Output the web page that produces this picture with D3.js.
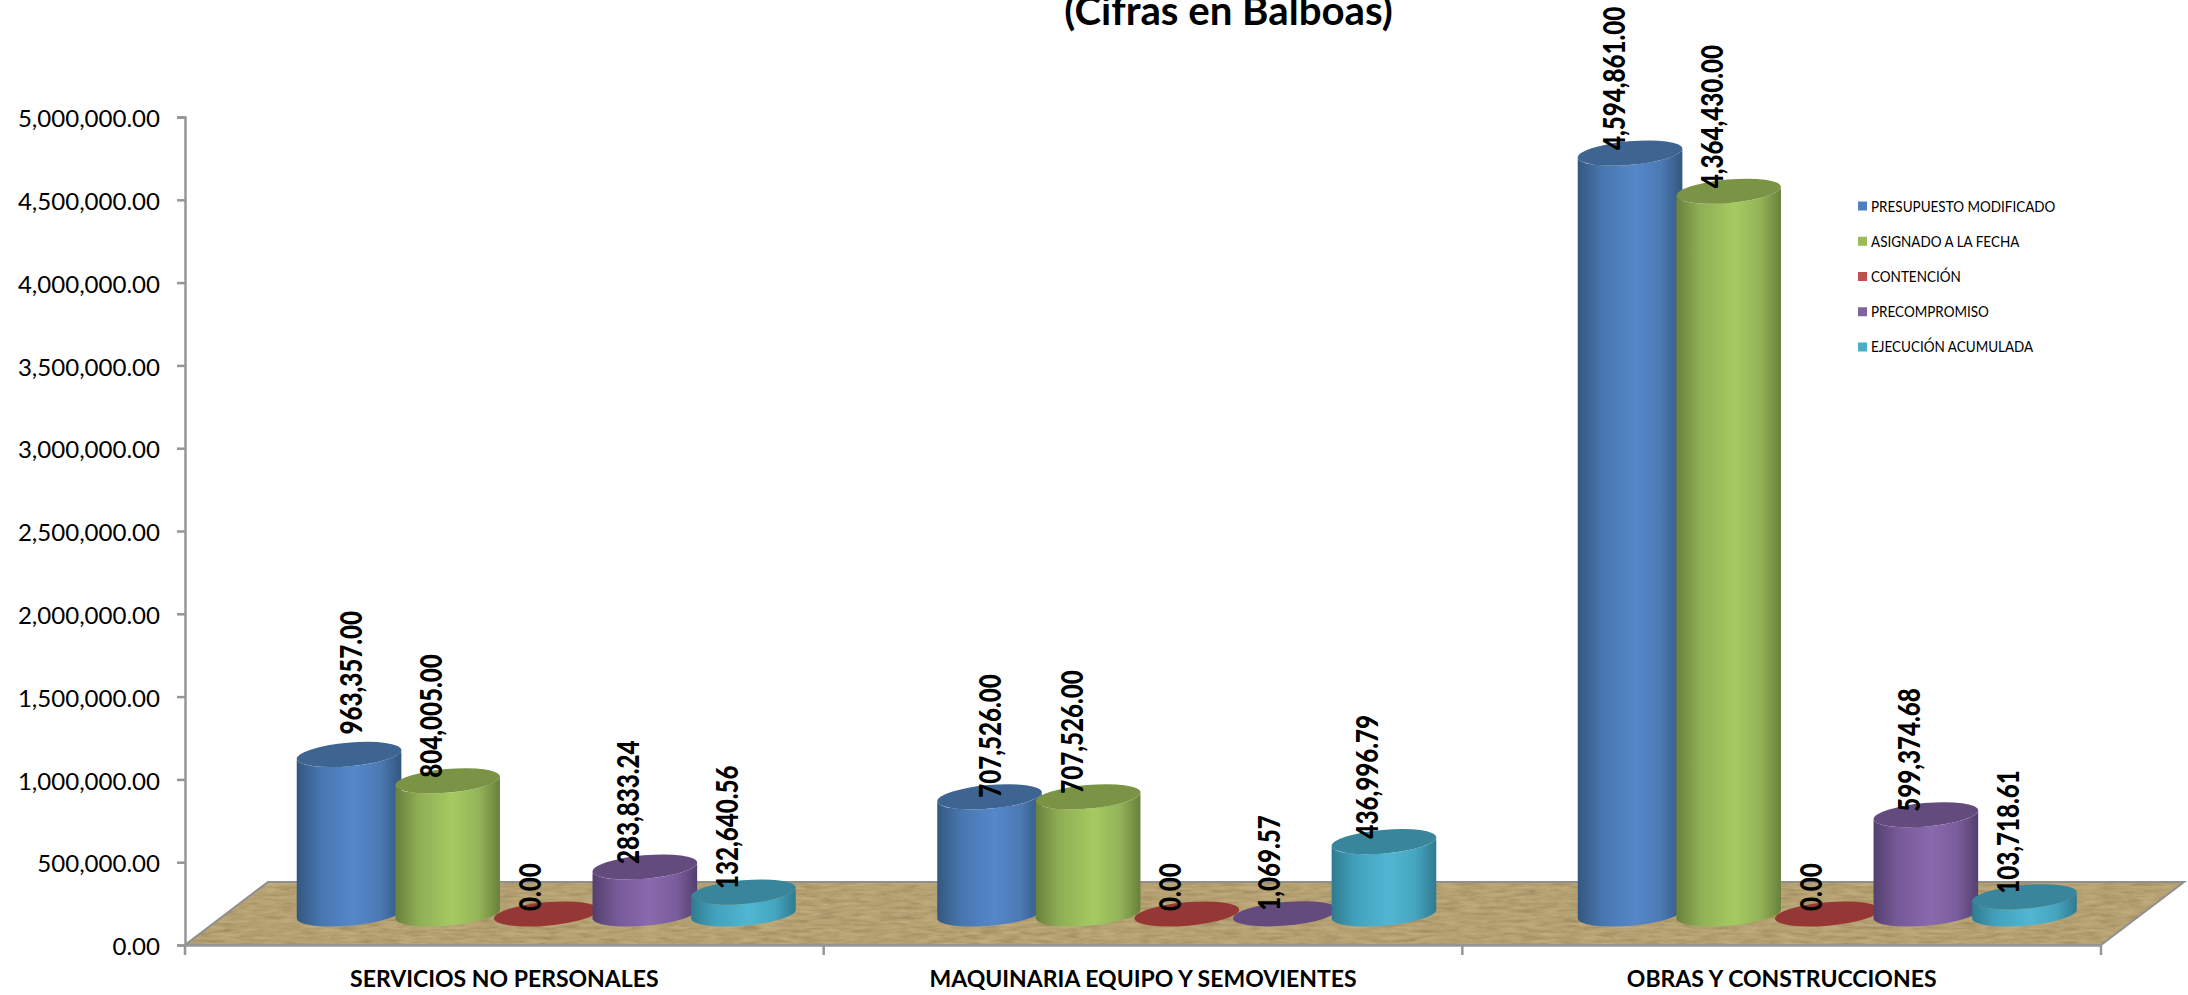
<!DOCTYPE html>
<html><head><meta charset="utf-8">
<script src="https://cdn.jsdelivr.net/npm/d3@7"></script>
<style>html,body{margin:0;padding:0;background:#fff;overflow:hidden}text{font-family:Lato,sans-serif;fill:#000}</style>
</head><body><svg id="c" width="2188" height="995" xmlns="http://www.w3.org/2000/svg"></svg>
<script>
const categories = ["SERVICIOS NO PERSONALES","MAQUINARIA EQUIPO Y SEMOVIENTES","OBRAS Y CONSTRUCCIONES"];
const seriesNames = ["PRESUPUESTO MODIFICADO","ASIGNADO A LA FECHA","CONTENCIÓN","PRECOMPROMISO","EJECUCIÓN ACUMULADA"];
const presupuesto = [963357.00,707526.00,4594861.00];
const asignado = [804005.00,707526.00,4364430.00];
const contencion = [0,0,0];
const precompromiso = [283833.24,1069.57,599374.68];
const ejecucion = [132640.56,436996.79,103718.61];
const yTicks = [0,500000,1000000,1500000,2000000,2500000,3000000,3500000,4000000,4500000,5000000];
const titleText = "(Cifras en Balboas)";

const seriesValues = [presupuesto,asignado,contencion,precompromiso,ejecucion];
const palette = [
 {mid:"#5588ca",edge:"#33577f",top:"#3e6491",key:"#4f81bd"},
 {mid:"#a6ca62",edge:"#68803c",top:"#7b9344",key:"#9bbb59"},
 {mid:"#c0504d",edge:"#943634",top:"#953735",key:"#c0504d"},
 {mid:"#8a69ae",edge:"#53406e",top:"#644b7e",key:"#8064a2"},
 {mid:"#50b7d3",edge:"#2e7b90",top:"#39859c",key:"#4bacc6"}
];
const svg = d3.select("#c"), defs = svg.append("defs");
const y = d3.scaleLinear().domain([0,5000000]).range([945,117]);
const xAxisScale = d3.scaleBand().domain(categories).range([185,2101]);
const groupX = d3.scaleBand().domain(categories).range([226,226+3*640.5]);
const seriesX = d3.scaleBand().domain(seriesNames).range([-246.5,246.5]);
const legendY = d3.scaleBand().domain(seriesNames).range([188.4,364.6]);
const baseY = y(0)-31;
const barH = v => y(0)-y(v);
const rx=52.5, ry=11.8, theta=-5*Math.PI/180;
const X=Math.sqrt(rx*rx*Math.cos(theta)**2+ry*ry*Math.sin(theta)**2);
const Yo=(rx*rx-ry*ry)*Math.sin(theta)*Math.cos(theta)/X;
const rot=theta*180/Math.PI;

palette.forEach((p,i)=>{
  const g=defs.append("linearGradient").attr("id","g"+i);
  [[0,p.edge],[.22,d3.interpolateRgb(p.edge,p.mid)(.62)],[.55,p.mid],[.8,d3.interpolateRgb(p.edge,p.mid)(.7)],[1,p.edge]]
   .forEach(s=>g.append("stop").attr("offset",s[0]).attr("stop-color",s[1]));
});
const f=defs.append("filter").attr("id","wood").attr("x",0).attr("y",0).attr("width",1).attr("height",1).attr("color-interpolation-filters","sRGB");
f.append("feTurbulence").attr("type","fractalNoise").attr("baseFrequency","0.05 0.3").attr("numOctaves",4).attr("seed",4).attr("result","n");
f.append("feColorMatrix").attr("in","n").attr("type","matrix").attr("values","0 0 0 0 .62  0 0 0 0 .53  0 0 0 0 .36  1.6 0 0 0 -.55").attr("result","d");
f.append("feColorMatrix").attr("in","n").attr("type","matrix").attr("values","0 0 0 0 .77  0 0 0 0 .69  0 0 0 0 .51  0 1.6 0 0 -.55").attr("result","l");
f.append("feComposite").attr("in","d").attr("in2","SourceAlpha").attr("operator","in").attr("result","dc");
f.append("feComposite").attr("in","l").attr("in2","SourceAlpha").attr("operator","in").attr("result","lc");
f.append("feMerge").selectAll("feMergeNode").data(["SourceGraphic","dc","lc"]).join("feMergeNode").attr("in",d=>d);

// floor
const depthX=83, depthY=63;
const fl=[[xAxisScale.range()[0],y(0)],[xAxisScale.range()[1],y(0)],[xAxisScale.range()[1]+depthX,y(0)-depthY],[xAxisScale.range()[0]+depthX,y(0)-depthY]];
svg.append("polygon").attr("points",fl.join(" ")).attr("fill","#b5a273").attr("filter","url(#wood)");
svg.append("polygon").attr("points",fl.join(" ")).attr("fill","none").attr("stroke","#8f8f8f").attr("stroke-width",2);

// axes
const yAxis=svg.append("g").attr("transform","translate(185,0)").call(d3.axisLeft(y).tickValues(yTicks).tickFormat(d3.format(",.2f")).tickSize(8).tickPadding(0));
const xAxis=svg.append("g").attr("transform",`translate(0,${y(0)})`).call(d3.axisBottom(xAxisScale).tickFormat("").tickSize(0));
xAxis.selectAll(".tick").remove();
xAxis.selectAll("line.cat").data(d3.range(4)).join("line").attr("class","cat")
  .attr("x1",i=>185+i*xAxisScale.step()).attr("x2",i=>185+i*xAxisScale.step()).attr("y1",0).attr("y2",10);
[yAxis,xAxis].forEach(a=>{a.selectAll("path,line").attr("stroke","#969696").attr("stroke-width",2.5);});
yAxis.selectAll("text").attr("font-size",23).attr("text-anchor","end")
  .attr("x",0).attr("transform","translate(-25,0) scale(1.046,1)").attr("dy","0.42em");
svg.append("g").selectAll("text").data(categories).join("text")
  .attr("transform",d=>`translate(${xAxisScale(d)+xAxisScale.bandwidth()/2},987)`)
  .attr("text-anchor","middle").attr("font-size",23).attr("font-weight",700).text(d=>d);

// cylinders
const cyl=svg.append("g");
const labels=[];
categories.forEach((c,ci)=>{
  seriesNames.forEach((s,si)=>{
    const v=seriesValues[si][ci];
    const cx=groupX(c)+groupX.bandwidth()/2+seriesX(s)+seriesX.bandwidth()/2;
    const top=baseY-barH(v);
    const g=cyl.append("g");
    if(barH(v)>2){
      g.append("path").attr("fill",`url(#g${si})`).attr("d",
       `M${cx-X},${top-Yo} L${cx-X},${baseY-Yo} A${rx},${ry} ${rot} 0 0 ${cx+X},${baseY+Yo} L${cx+X},${top+Yo} A${rx},${ry} ${rot} 0 1 ${cx-X},${top-Yo}Z`);
    }
    g.append("ellipse").attr("cx",cx).attr("cy",top).attr("rx",rx).attr("ry",ry)
      .attr("transform",`rotate(${rot} ${cx} ${top})`).attr("fill",palette[si].top);
    let dx=-17,dy=-3;
    if(si===0&&ci===0){dx=1;dy=-20;}
    if(si===0&&ci===1){dx=0;dy=1;}
    labels.push({v,x:cx+dx,y:top+dy});
  });
});
svg.append("g").selectAll("text").data(labels).join("text")
  .attr("transform",d=>`translate(${d.x+11.5},${d.y}) rotate(-90) scale(.78,1)`)
  .attr("font-size",31).attr("font-weight",900).text(d=>d3.format(",.2f")(d.v));

// legend
const lg=svg.append("g").selectAll("g").data(seriesNames).join("g")
  .attr("transform",d=>`translate(1858,${legendY(d)+legendY.bandwidth()/2})`);
lg.append("rect").attr("x",0).attr("y",-4.5).attr("width",9).attr("height",9).attr("fill",(d,i)=>palette[i].key);
lg.append("text").attr("transform","translate(13,5.5) scale(.9,1)").attr("font-size",15).text(d=>d);

// title
svg.append("text").attr("x",1228.5).attr("y",25).attr("text-anchor","middle").attr("font-size",40.2).attr("font-weight",700).text(titleText);
</script></body></html>
